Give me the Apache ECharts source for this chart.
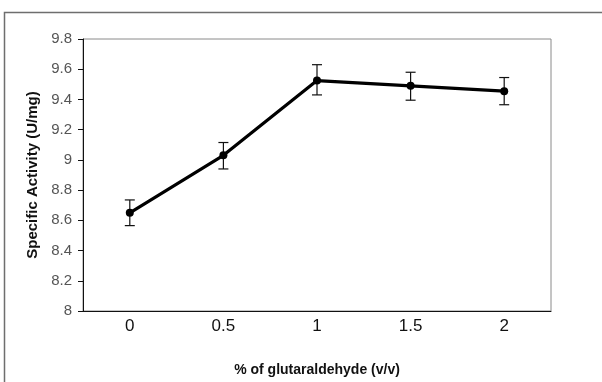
<!DOCTYPE html>
<html>
<head>
<meta charset="utf-8">
<script src="https://cdn.jsdelivr.net/npm/echarts@6/dist/echarts.min.js"></script>
<style>
html,body{margin:0;padding:0;background:#fff;}
#chart{width:602px;height:382px;}
</style>
</head>
<body>
<div id="chart"></div>
<script>
var categories = ['0', '0.5', '1', '1.5', '2'];
var activity = [8.65, 9.03, 9.525, 9.49, 9.455];
var errLow = [8.565, 8.94, 9.43, 9.395, 9.365];
var errHigh = [8.735, 9.115, 9.63, 9.58, 9.545];
var yTicks = {min: 8, max: 9.8, interval: 0.2};

var chart = echarts.init(document.getElementById('chart'), null, {renderer: 'canvas'});
var errData = categories.map(function (c, i) { return [i, errLow[i], errHigh[i]]; });

chart.setOption({
  backgroundColor: '#fff',
  animation: false,
  graphic: [{
    type: 'rect',
    shape: {x: 4.5, y: 12.5, width: 700, height: 500},
    style: {fill: 'none', stroke: '#6e6e6e', lineWidth: 1.5},
    silent: true
  }],
  grid: {
    left: 83, top: 39, right: 51, bottom: 65,
    show: true, borderColor: '#8a8a8a', borderWidth: 1, backgroundColor: 'transparent'
  },
  xAxis: {
    type: 'category',
    data: categories,
    boundaryGap: true,
    axisLine: {lineStyle: {color: '#111', width: 1}},
    axisTick: {show: false},
    axisLabel: {color: '#111', fontSize: 17, fontFamily: 'Liberation Sans, Arial', margin: 7},
    name: '% of glutaraldehyde (v/v)',
    nameLocation: 'middle',
    nameGap: 52,
    nameTextStyle: {color: '#111', fontSize: 14, fontWeight: 'bold', fontFamily: 'Liberation Sans, Arial'}
  },
  yAxis: {
    type: 'value',
    min: yTicks.min, max: yTicks.max, interval: yTicks.interval,
    axisLine: {show: true, lineStyle: {color: '#111', width: 1}},
    axisTick: {show: true, length: 5, lineStyle: {color: '#111'}},
    splitLine: {show: false},
    axisLabel: {color: '#555', fontSize: 15, fontFamily: 'Liberation Sans, Arial', margin: 11,
      formatter: function (v) { return String(Math.round(v * 10) / 10); }},
    name: 'Specific Activity (U/mg)',
    nameLocation: 'middle',
    nameGap: 43,
    nameTextStyle: {color: '#111', fontSize: 15, fontWeight: 'bold', fontFamily: 'Liberation Sans, Arial'}
  },
  series: [{
    type: 'custom',
    data: errData,
    z: 3,
    renderItem: function (params, api) {
      var x = api.value(0);
      var lo = api.coord([x, api.value(1)]);
      var hi = api.coord([x, api.value(2)]);
      var w = 5;
      var st = {stroke: '#111', lineWidth: 1.2};
      return {type: 'group', children: [
        {type: 'line', shape: {x1: lo[0], y1: lo[1], x2: hi[0], y2: hi[1]}, style: st},
        {type: 'line', shape: {x1: lo[0] - w, y1: lo[1], x2: lo[0] + w, y2: lo[1]}, style: st},
        {type: 'line', shape: {x1: hi[0] - w, y1: hi[1], x2: hi[0] + w, y2: hi[1]}, style: st}
      ]};
    }
  }, {
    type: 'line',
    data: activity,
    z: 4,
    symbol: 'circle',
    symbolSize: 8,
    lineStyle: {color: '#000', width: 3.2},
    itemStyle: {color: '#000'}
  }]
});
</script>
</body>
</html>
